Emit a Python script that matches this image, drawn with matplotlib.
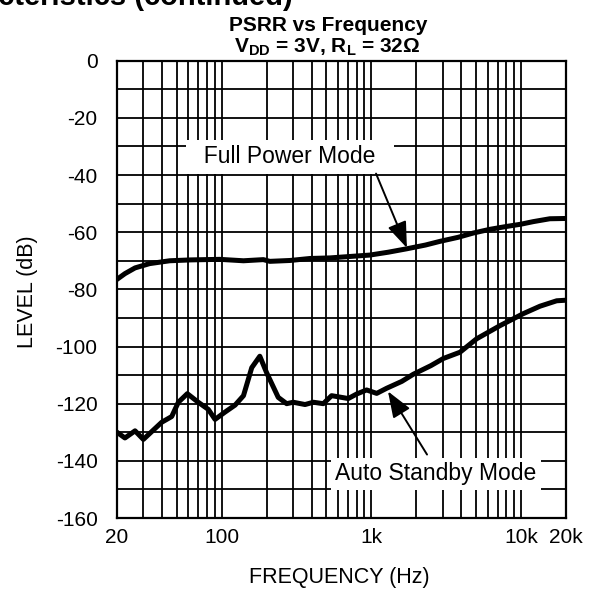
import matplotlib
matplotlib.use("Agg")
import matplotlib.pyplot as plt
from matplotlib.ticker import FixedLocator, NullFormatter, FixedFormatter

plt.rcParams['font.family'] = ['Liberation Sans', 'DejaVu Sans']
plt.rcParams['axes.unicode_minus'] = False

# ---- data ----
freq_full = [20, 22.6, 26.4, 33, 45, 62, 97, 140, 190, 210, 286, 390, 530, 720,
             980, 1300, 1730, 2300, 2880, 3800, 4800, 6200, 8000, 10000, 12100,
             15600, 20000]
level_full = [-76.5, -74.5, -72.5, -71, -70, -69.7, -69.5, -70, -69.6, -70.2, -69.9,
              -69.2, -69, -68.5, -68, -67, -65.8, -64.5, -63.2, -61.8, -60.3, -59,
              -58, -57.2, -56.3, -55.3, -55.2]

freq_standby = [20, 22.6, 26.4, 30, 39.8, 46.4, 51.4, 59, 69.8, 81.5, 90.4, 105,
                123, 140, 159, 180, 200, 239, 272, 301, 361, 410, 478, 543, 702,
                800, 931, 1087, 1268, 1600, 1910, 2500, 3027, 3914, 5058, 7244,
                10370, 13400, 17330, 20000]
level_standby = [-130, -132, -129.5, -132.5, -126.5, -124.5, -119.5, -116.5, -119.5,
                 -122, -125.5, -123, -120.5, -117.2, -107.4, -103.4, -109.2,
                 -117.8, -120, -119.5, -120.3, -119.5, -120, -117.2, -118.2,
                 -116.6, -115.2, -116.4, -114.6, -112.2, -109.7, -106.7, -104.2, -102,
                 -97.3, -92.7, -88.5, -85.9, -84, -83.8]

x_major = [20, 100, 1000, 10000, 20000]
x_major_labels = ['20', '100', '1k', '10k', '20k']
x_minor = [30, 40, 50, 60, 70, 80, 90, 200, 300, 400, 500, 600, 700, 800, 900,
           2000, 3000, 4000, 5000, 6000, 7000, 8000, 9000]
y_major = [0, -20, -40, -60, -80, -100, -120, -140, -160]
y_minor = [-10, -30, -50, -70, -90, -110, -130, -150]

W, H = 590, 600
fig = plt.figure(figsize=(W / 100, H / 100), dpi=100)
ax = fig.add_axes([117 / W, 1 - 518 / H, 449 / W, (518 - 60.7) / H])

ax.set_xscale('log')
ax.set_xlim(20, 20000)
ax.set_ylim(-160, 0)

ax.xaxis.set_major_locator(FixedLocator(x_major))
ax.xaxis.set_major_formatter(FixedFormatter(x_major_labels))
ax.xaxis.set_minor_locator(FixedLocator(x_minor))
ax.xaxis.set_minor_formatter(NullFormatter())
ax.yaxis.set_major_locator(FixedLocator(y_major))
ax.yaxis.set_minor_locator(FixedLocator(y_minor))

ax.tick_params(which='both', length=0)
ax.tick_params(axis='x', which='major', labelsize=15, pad=7)
ax.tick_params(axis='y', which='major', labelsize=15, pad=14)
ax.grid(True, which='both', color='black', linewidth=1.3, zorder=1)
ax.set_axisbelow(True)
for s in ax.spines.values():
    s.set_linewidth(1.6)

ax.plot(freq_full, level_full, color='black', lw=3.6, zorder=3,
        solid_joinstyle='round')
ax.plot(freq_standby, level_standby, color='black', lw=3.6, zorder=3,
        solid_joinstyle='round')

# annotations
ax.text(286, -33.6, '  Full Power Mode  ', fontsize=16.5, ha='center', va='center',
        zorder=5, bbox=dict(boxstyle='square,pad=0.25', fc='white', ec='none'))
ax.annotate('', xy=(1730, -65.5), xytext=(1076, -39.5),
            arrowprops=dict(arrowstyle='-|>,head_length=0.8,head_width=0.3',
                            color='black', lw=1.4,
                            mutation_scale=20, shrinkA=0, shrinkB=0), zorder=6)

ax.text(2706, -144.5, 'Auto Standby Mode', fontsize=16.5, ha='center', va='center',
        zorder=5, bbox=dict(boxstyle='square,pad=0.2', fc='white', ec='none'))
ax.annotate('', xy=(1293, -115.7), xytext=(2358, -137.8),
            arrowprops=dict(arrowstyle='-|>,head_length=0.8,head_width=0.3',
                            color='black', lw=1.4,
                            mutation_scale=20, shrinkA=0, shrinkB=0), zorder=6)

# titles and labels
fig.text(293 / W, 1 - 5 / H, 'Typical Performance Characteristics (continued)',
         ha='right', va='baseline', fontsize=21, fontweight='bold')
fig.text(328 / W, 1 - 31 / H, 'PSRR vs Frequency', ha='center', va='baseline',
         fontsize=15, fontweight='bold')
fig.text(327 / W, 1 - 52 / H, r'V$_\mathregular{DD}$ = 3V, R$_\mathregular{L}$ = 32Ω',
         ha='center', va='baseline', fontsize=15, fontweight='bold')
fig.text(27 / W, 1 - 292 / H, 'LEVEL (dB)', rotation=90, ha='center', va='center',
         fontsize=15.5)
fig.text(339 / W, 1 - 577 / H, 'FREQUENCY (Hz)', ha='center', va='center',
         fontsize=15.5)

fig.savefig('out.png', dpi=100)
